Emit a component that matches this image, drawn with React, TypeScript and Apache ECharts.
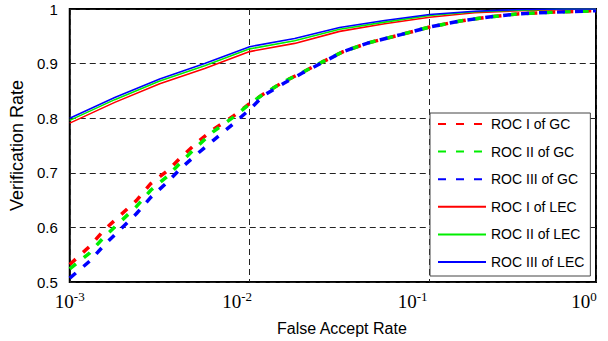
import React, { useEffect, useRef } from "react";
import * as echarts from "echarts";

// log10(False Accept Rate) sample positions
const GC_LOG_FAR = [-3.0, -2.89, -2.81, -2.72, -2.63, -2.55, -2.46, -2.38, -2.29, -2.2, -2.09, -2.0, -1.92, -1.81, -1.7, -1.59, -1.48, -1.34, -1.16, -1.0, -0.83, -0.68, -0.51, -0.33, -0.15, -0.075];
const GC_I = [0.532, 0.565, 0.595, 0.622, 0.649, 0.68, 0.703, 0.729, 0.756, 0.78, 0.804, 0.827, 0.845, 0.867, 0.885, 0.904, 0.922, 0.938, 0.953, 0.967, 0.978, 0.985, 0.991, 0.994, 0.996, 0.997];
const GC_II = [0.524, 0.553, 0.582, 0.61, 0.638, 0.668, 0.693, 0.72, 0.749, 0.776, 0.802, 0.826, 0.845, 0.867, 0.885, 0.904, 0.922, 0.938, 0.953, 0.967, 0.978, 0.985, 0.991, 0.994, 0.996, 0.997];
const GC_III = [0.507, 0.538, 0.567, 0.596, 0.625, 0.655, 0.682, 0.709, 0.735, 0.76, 0.79, 0.816, 0.842, 0.864, 0.884, 0.903, 0.922, 0.938, 0.953, 0.967, 0.978, 0.985, 0.991, 0.994, 0.996, 0.997];

const LEC_LOG_FAR = [-3, -2.75, -2.5, -2.25, -2, -1.75, -1.5, -1.25, -1, -0.75, -0.5, -0.25, -0.075];
const LEC_I = [0.791, 0.829, 0.863, 0.891, 0.922, 0.937, 0.959, 0.973, 0.985, 0.993, 0.997, 0.999, 1.0];
const LEC_II = [0.796, 0.834, 0.868, 0.896, 0.927, 0.942, 0.963, 0.976, 0.988, 0.995, 0.998, 1.0, 1.0];
const LEC_III = [0.8, 0.838, 0.872, 0.9, 0.931, 0.946, 0.966, 0.979, 0.99, 0.996, 0.999, 1.0, 1.0];

const SERIES_NAMES = ["ROC I of GC", "ROC II of GC", "ROC III of GC", "ROC I of LEC", "ROC II of LEC", "ROC III of LEC"];
const COLORS = ["#ff0000", "#00ee00", "#0000ff"];
const Y_TICKS = [0.5, 0.6, 0.7, 0.8, 0.9, 1];
const X_EXPONENTS = [-3, -2, -1, 0];

const zip = (xs: number[], ys: number[]) => xs.map((x, i) => [x, ys[i]]);

export default function App() {
  const ref = useRef<HTMLDivElement>(null);
  useEffect(() => {
    if (!ref.current) return;
    const chart = echarts.init(ref.current, undefined, { renderer: "svg" });
    const gcData = [GC_I, GC_II, GC_III];
    const lecData = [LEC_I, LEC_II, LEC_III];
    const series: any[] = [];
    gcData.forEach((d, i) => {
      series.push({
        name: SERIES_NAMES[i],
        type: "line",
        data: zip(GC_LOG_FAR, d),
        showSymbol: false,
        symbol: "none",
        lineStyle: { color: COLORS[i], width: 3.5, type: [8, 10] },
        itemStyle: { color: COLORS[i] },
      });
    });
    lecData.forEach((d, i) => {
      series.push({
        name: SERIES_NAMES[i + 3],
        type: "line",
        data: zip(LEC_LOG_FAR, d),
        showSymbol: false,
        symbol: "none",
        lineStyle: { color: COLORS[i], width: 1.6 },
        itemStyle: { color: COLORS[i] },
      });
    });
    const shifts: Record<number, number> = { [-3]: 0, [-2]: 25, [-1]: 34, [0]: 24 };
    const rich: any = {
      b: { fontFamily: "Liberation Serif", fontSize: 19, color: "#000" },
    };
    X_EXPONENTS.forEach((e) => {
      rich["s" + (e + 3)] = {
        fontFamily: "Liberation Serif",
        fontSize: 13,
        color: "#000",
        padding: [0, shifts[e], 9, 0],
      };
    });
    chart.setOption({
      animation: false,
      grid: { left: 68, top: 9, right: 12, bottom: 57, show: true, borderColor: "#000", borderWidth: 2, backgroundColor: "#fff" },
      legend: {
        orient: "vertical",
        left: 430,
        top: 113,
        data: SERIES_NAMES,
        itemWidth: 48,
        itemHeight: 14,
        itemGap: 13.6,
        padding: [4, 6, 7, 7],
        backgroundColor: "#fff",
        borderColor: "#444",
        borderWidth: 1,
        itemStyle: { opacity: 0 },
        textStyle: { fontFamily: "Liberation Sans", fontSize: 14, color: "#000" },
      },
      xAxis: {
        type: "value",
        min: -3,
        max: -0.075,
        interval: 1,
        name: "False Accept Rate",
        nameLocation: "middle",
        nameGap: 38,
        nameTextStyle: { fontFamily: "Liberation Sans", fontSize: 16, color: "#000", padding: [0, 0, 0, 18] },
        axisLine: { show: false },
        axisTick: { show: false },
        axisLabel: {
          showMaxLabel: true,
          showMinLabel: true,
          margin: 8,
          formatter: (v: number) => {
            const e = Math.round(v);
            return `{b|10}{s${e + 3}|${e}}`;
          },
          rich,
        },
        splitLine: { show: true, lineStyle: { color: "#222", type: [6, 4], width: 1 } },
      },
      yAxis: {
        type: "value",
        min: 0.5,
        max: 1,
        interval: 0.1,
        name: "Verification Rate",
        nameLocation: "middle",
        nameGap: 36,
        nameTextStyle: { fontFamily: "Liberation Sans", fontSize: 18, color: "#000" },
        axisLine: { show: false },
        axisTick: { show: false },
        axisLabel: {
          margin: 12,
          fontFamily: "Liberation Sans",
          fontSize: 15,
          color: "#000",
          formatter: (v: number) => {
            const t = Y_TICKS.find((y) => Math.abs(y - v) < 1e-6);
            return t === undefined ? "" : String(t);
          },
        },
        splitLine: { show: true, lineStyle: { color: "#222", type: [6, 4], width: 1 } },
      },
      series,
    });
    return () => chart.dispose();
  }, []);
  return <div ref={ref} style={{ position: "fixed", left: 0, top: 0, width: 608, height: 341, background: "#fff" }} />;
}
